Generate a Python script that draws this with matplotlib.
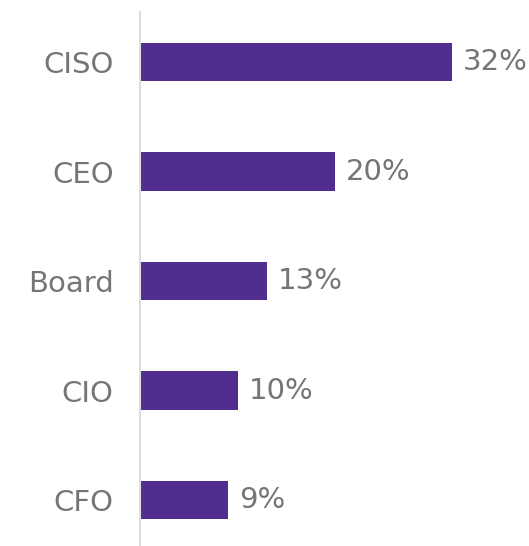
import matplotlib.pyplot as plt

categories = ['CISO', 'CEO', 'Board', 'CIO', 'CFO']
values = [32, 20, 13, 10, 9]
labels = ['32%', '20%', '13%', '10%', '9%']

plt.rcParams['font.family'] = ['DejaVu Sans']

fig = plt.figure(figsize=(5.29, 5.46), dpi=100)
ax = fig.add_axes([140 / 529, 0, 389 / 529, 1 - 12 / 546])

ypos = list(range(len(categories)))
ax.barh(ypos, values, height=0.35, color='#512D8F')

for y, v, lab in zip(ypos, values, labels):
    ax.annotate(lab, (v, y), xytext=(8, 0), textcoords='offset points',
                va='center', ha='left', fontsize=21, color='#757575')

ax.set_xlim(0, 389 / 9.75)
ax.set_ylim(4.42, -0.457)
ax.set_yticks(ypos)
ax.set_yticklabels(categories, fontsize=21, color='#757575')
ax.tick_params(axis='y', length=0, pad=19)
ax.set_xticks([])

for s in ['top', 'right', 'bottom']:
    ax.spines[s].set_visible(False)
ax.spines['left'].set_color('#dddddd')
ax.spines['left'].set_linewidth(1.5)

plt.savefig('out.png', dpi=100)
